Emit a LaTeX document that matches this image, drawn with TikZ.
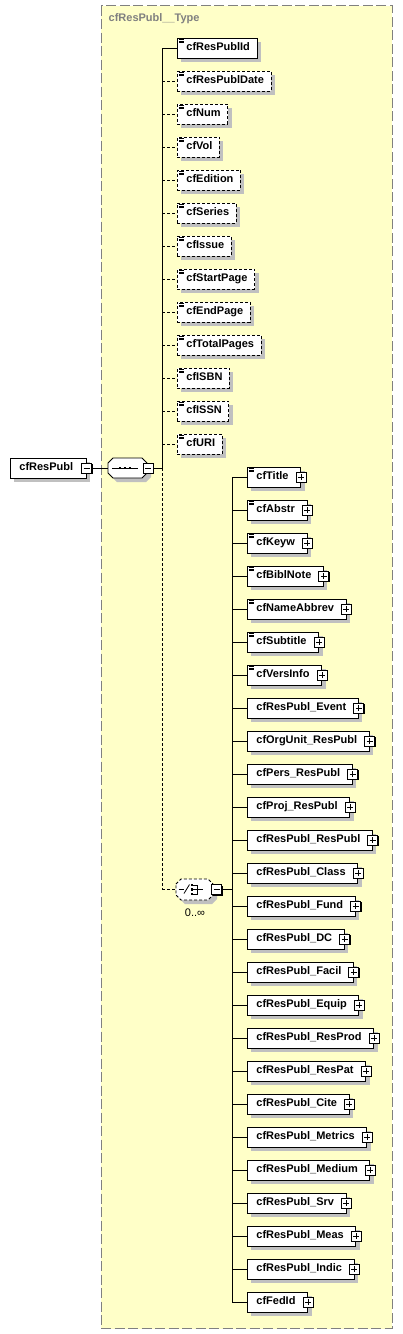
\documentclass[tikz,border=0pt]{standalone}
\usepackage{fontspec}
\setmainfont{Liberation Sans}
\usetikzlibrary{shadows}
\definecolor{bgyellow}{RGB}{255,255,200}
\definecolor{shadowgray}{RGB}{192,192,192}
\definecolor{framegray}{RGB}{128,128,128}
\newcommand\elemfont{\bfseries\fontsize{11pt}{13pt}\selectfont}
\newcommand\docicon[1]{\foreach \dy in {1.6,3.4,5.2}{\draw[line width=0.8pt] ([shift={(2,\dy)}]#1.north west) -- ++(5,0);}}
\newcommand\plusat[2]{\node[pmbox] (#2) at (#1) {};\draw[line width=0.8pt] ([xshift=-3pt]#2.center) -- ([xshift=3pt]#2.center) ([yshift=-3pt]#2.center) -- ([yshift=3pt]#2.center);}
\newcommand\minusat[2]{\node[pmbox] (#2) at (#1) {};\draw[line width=0.8pt] ([xshift=-3pt]#2.center) -- ([xshift=3pt]#2.center);}
\tikzset{
 elem/.style={draw, fill=white, line width=0.8pt, minimum height=20pt, inner xsep=0pt, inner ysep=0pt, text height=8pt, text depth=2.4pt, font=\elemfont, anchor=west, general shadow={fill=shadowgray, shadow xshift=4pt, shadow yshift=-4pt}},
 optbox/.style={dash pattern=on 3pt off 2pt},
 reqbox/.style={},
 conn/.style={line width=0.8pt},
 optconn/.style={line width=0.8pt, dash pattern=on 3pt off 2pt},
 reqconn/.style={line width=0.8pt},
 pmbox/.style={draw, fill=white, line width=0.8pt, minimum size=10pt, inner sep=0pt, general shadow={fill=black, shadow xshift=1pt, shadow yshift=-1pt}},
}
\begin{document}
\begin{tikzpicture}[x=1pt,y=-1pt]
\useasboundingbox (0,0) rectangle (403,1334);
% type frame
\draw[framegray, fill=bgyellow, line width=0.8pt, dash pattern=on 10pt off 3.5pt] (101,5.5) rectangle (392,1328.5);
\node[anchor=west, text=framegray, font=\elemfont, inner sep=0pt] (title) at (108.5,19) {cfResPubl\_\_Type};

% root element
\node[elem] (root) at (10,468) {\hspace*{9pt}cfResPubl\hspace*{13pt}};
\minusat{root.east}{rm}

% sequence compositor
\fill[shadowgray] (112,467) -- (117,462) -- (146,462) -- (151,467) -- (151,477) -- (146,482) -- (117,482) -- (112,477) -- cycle;
\draw[conn, fill=white] (108,463) -- (113,458) -- (142,458) -- (147,463) -- (147,473) -- (142,478) -- (113,478) -- (108,473) -- cycle;
\node[inner sep=0pt, minimum width=39pt, minimum height=20pt] (seq) at (127.5,468) {};
\draw[conn] (112,468) -- (138,468);
\foreach \xx in {120,125,130} \fill ({\xx-1.3},466.7) rectangle +(2.6,2.6);
\minusat{148,468}{sm}
\draw[conn] (rm.east) -- (seq.west);

% first group spine
\coordinate (spj) at (162,468);
\coordinate (chc) at (162,889.5);
\draw[conn] (sm.east) -- (spj);

\foreach \nm/\k/\st in {cfResPublId/0/reqbox, cfResPublDate/1/optbox, cfNum/2/optbox, cfVol/3/optbox, cfEdition/4/optbox, cfSeries/5/optbox, cfIssue/6/optbox, cfStartPage/7/optbox, cfEndPage/8/optbox, cfTotalPages/9/optbox, cfISBN/10/optbox, cfISSN/11/optbox, cfURI/12/optbox}{
  \node[elem,\st] (a\k) at (177,{48+33*\k}) {\hspace*{9pt}\nm\hspace*{7pt}};
  \docicon{a\k}
  \coordinate (sa\k) at (162,{48+33*\k});
}
\draw[reqconn] (sa0) -- (spj);
\draw[reqconn] (sa0) -- (a0.west);
\foreach \k in {1,...,12} \draw[optconn] (sa\k) -- (a\k.west);
\draw[optconn] (spj) -- (chc);

% choice compositor
\fill[shadowgray] (180,888) -- (185,883) -- (212,883) -- (217,888) -- (217,899) -- (212,904) -- (185,904) -- (180,899) -- cycle;
\draw[optconn, fill=white] (176,884) -- (181,879) -- (208,879) -- (213,884) -- (213,895) -- (208,900) -- (181,900) -- (176,895) -- cycle;
\node[inner sep=0pt, minimum width=37pt, minimum height=21pt] (ch) at (194.5,889.5) {};
\draw[conn] (178.5,889.5) -- (183.5,889.5);
\draw[conn] (184,893.5) -- (189.5,884.5);
\foreach \yy in {885,889.5,894} \fill (190.5,{\yy-1.3}) rectangle +(2.6,2.6);
\draw[conn] (193,885) -- (197,885) -- (197,894) -- (193,894) (193,889.5) -- (203,889.5);
\minusat{216.5,889.5}{cm}
\node[font=\fontsize{11pt}{13pt}\selectfont, inner sep=0pt] (occ) at (195,913) {0..∞};
\draw[optconn] (chc) -- (ch.west);

% second group
\coordinate (chj) at (232,889.5);
\draw[conn] (cm.east) -- (chj);
\foreach \nm/\k in {cfTitle/0, cfAbstr/1, cfKeyw/2, cfBiblNote/3, cfNameAbbrev/4, cfSubtitle/5, cfVersInfo/6, cfResPubl\_Event/7, cfOrgUnit\_ResPubl/8, cfPers\_ResPubl/9, cfProj\_ResPubl/10, cfResPubl\_ResPubl/11, cfResPubl\_Class/12, cfResPubl\_Fund/13, cfResPubl\_DC/14, cfResPubl\_Facil/15, cfResPubl\_Equip/16, cfResPubl\_ResProd/17, cfResPubl\_ResPat/18, cfResPubl\_Cite/19, cfResPubl\_Metrics/20, cfResPubl\_Medium/21, cfResPubl\_Srv/22, cfResPubl\_Meas/23, cfResPubl\_Indic/24, cfFedId/25}{
  \node[elem] (b\k) at (247,{477+33*\k}) {\hspace*{9pt}\nm\hspace*{12pt}};
  \plusat{b\k.east}{p\k}
  \coordinate (sb\k) at (232,{477+33*\k});
  \draw[conn] (sb\k) -- (b\k.west);
}
\foreach \k in {0,...,6} {\docicon{b\k}}
\draw[conn] (sb0) -- (sb25);
\end{tikzpicture}
\end{document}
